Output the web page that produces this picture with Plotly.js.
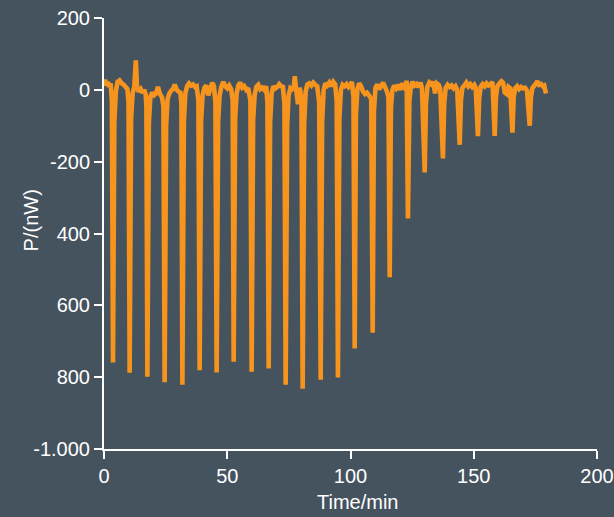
<!DOCTYPE html>
<html>
<head>
<meta charset="utf-8">
<script src="https://cdn.plot.ly/plotly-3.0.1.min.js"></script>
<style>
  html, body { margin: 0; padding: 0; background: #45535f; }
  #chart { width: 614px; height: 517px; }
</style>
</head>
<body>
<div id="chart"></div>
<script>
// Heat-flow trace: time in minutes, power in nW
const timeMin = [
  0.0, 0.4, 0.9, 1.5, 2.1, 2.7, 3.2, 3.65,
  4.2, 4.8, 5.5, 6.3, 7.2, 8.0, 8.8, 9.5, 9.95, 10.4,
  11.0, 11.6, 12.3, 12.9, 13.4, 14.1, 14.9, 15.6, 16.3, 16.9, 17.2, 17.6,
  18.2, 18.8, 19.5, 20.3, 21.1, 21.9, 22.7, 23.5, 24.1, 24.6,
  25.2, 25.8, 26.5, 27.3, 28.0, 28.7, 29.5, 30.3, 31.0, 31.4, 31.8,
  32.4, 33.0, 33.7, 34.5, 35.3, 36.1, 36.9, 37.6, 38.3, 38.8,
  39.4, 40.0, 40.7, 41.5, 42.3, 43.1, 43.9, 44.6, 45.2, 45.7,
  46.3, 46.9, 47.6, 48.4, 49.2, 50.0, 50.8, 51.6, 52.2, 52.6,
  53.2, 53.8, 54.5, 55.3, 56.1, 56.9, 57.7, 58.5, 59.4, 59.9,
  60.5, 61.1, 61.8, 62.6, 63.4, 64.2, 65.0, 65.8, 66.3, 66.8,
  67.4, 68.0, 68.7, 69.5, 70.3, 71.1, 71.9, 72.6, 73.2, 73.7,
  74.3, 74.9, 75.6, 76.3, 77.0, 77.4, 77.9, 78.7, 79.4, 80.1, 80.6,
  81.2, 81.8, 82.5, 83.3, 84.1, 84.9, 85.7, 86.5, 87.3, 87.9,
  88.5, 89.1, 89.8, 90.6, 91.4, 92.2, 93.0, 93.8, 94.4, 94.9,
  95.5, 96.1, 96.8, 97.6, 98.4, 99.2, 100.0, 100.6, 101.2, 101.7,
  102.2, 102.8, 103.5, 104.3, 105.1, 105.9, 106.7, 107.5, 108.4, 109.0,
  109.5, 110.1, 110.8, 111.6, 112.4, 113.2, 114.0, 114.8, 115.4, 115.9,
  116.4, 117.0, 117.7, 118.5, 119.3, 120.1, 120.9, 121.7, 122.4, 122.8, 123.3,
  123.9, 124.5, 125.2, 126.0, 126.8, 127.6, 128.4, 129.0, 130.1,
  130.6, 131.2, 132.0, 132.8, 133.6, 134.3, 135.0, 135.8, 136.4, 137.5,
  138.0, 138.6, 139.4, 140.2, 141.0, 141.8, 142.6, 143.3, 144.3,
  144.8, 145.4, 146.2, 147.0, 147.8, 148.6, 149.4, 150.2, 150.8, 151.7,
  152.2, 152.8, 153.6, 154.4, 155.2, 156.0, 156.8, 157.6, 158.5,
  159.0, 159.6, 160.4, 161.2, 161.9, 162.6, 163.4, 164.1, 164.8, 165.7,
  166.2, 166.8, 167.6, 168.4, 169.2, 170.0, 170.8, 171.6, 172.7,
  173.2, 173.8, 174.6, 175.3, 175.8, 176.5, 177.3, 178.0, 178.6, 179.3
];

const powerNW = [
  12, 28, 12, 22, 8, 18, -30, -759,
  -90, -5, 22, 26, 18, 14, 8, 2, -35, -788,
  -80, -10, 8, 82, 8, -5, 2, -8, 0, -12, -45, -799,
  -95, -20, -8, -15, -10, 8, -12, -20, -45, -814,
  -100, -25, -10, -2, 2, 15, 0, -5, -8, -40, -821,
  -90, -10, 10, 18, 12, 15, 8, 10, -30, -781,
  -85, -15, 5, 12, -15, 2, 20, 10, -35, -787,
  -90, -15, 8, 22, 10, 4, 12, 2, -30, -757,
  -80, -10, 12, 20, 6, 10, 0, 5, -30, -785,
  -85, -15, 8, 14, 2, 6, 0, 10, -35, -776,
  -90, -10, 10, 4, 8, 16, 10, 8, -40, -821,
  -100, -15, 5, 2, 8, 38, 4, -40, 6, -25, -832,
  -95, -5, 15, 18, 12, 20, 14, 10, -35, -807,
  -90, 0, 18, 12, 20, 10, 22, 15, -30, -801,
  -80, 0, 14, 10, 16, 8, 15, 22, -20, -720,
  -70, 2, 18, 10, -5, -12, -8, -15, -25, -676,
  -60, 5, 15, 2, 10, 20, 8, -5, -20, -522,
  -50, 0, 12, 4, 14, 0, 18, 8, 15, 25, -358,
  -30, 10, 22, 12, 16, 8, 20, 5, -230,
  -40, 8, 20, 15, 22, -10, 18, 14, 2, -191,
  -40, 5, 14, 8, 12, 4, 10, 0, -153,
  -30, 6, 12, 20, 10, 16, 8, 14, 5, -129,
  -25, 8, 16, 10, 18, 12, 15, 22, -128,
  -20, 10, 18, 24, 20, -8, -12, 8, 4, -119,
  -20, 4, 10, 2, 8, 4, 6, -2, -100,
  -20, 5, 12, 18, 24, 14, 16, 10, 12, -10
];

const xTickVals = [0, 50, 100, 150, 200];
const xTickText = ["0", "50", "100", "150", "200"];
const yTickVals = [200, 0, -200, -400, -600, -800, -1000];
const yTickText = ["200", "0", "-200", "400", "600", "800", "-1.000"];

const xTitle = "Time/min";
const yTitle = "P/(nW)";

const BG = "#45535f";
const FG = "#ffffff";
const TRACE = "#f7941d";
const FONT = "'Liberation Sans', Arial, sans-serif";

const trace = {
  type: "scatter",
  mode: "lines",
  x: timeMin,
  y: powerNW,
  line: { color: TRACE, width: 4.6, simplify: false },
  hoverinfo: "skip",
  showlegend: false
};

const axisCommon = {
  showline: true,
  linecolor: FG,
  linewidth: 2,
  ticks: "outside",
  ticklen: 8,
  tickwidth: 2,
  tickcolor: FG,
  showgrid: false,
  zeroline: false,
  fixedrange: true,
  ticklabeloverflow: "allow"
};

const layout = {
  width: 614,
  height: 517,
  paper_bgcolor: BG,
  plot_bgcolor: BG,
  margin: { l: 104, r: 17, t: 18, b: 68 },
  font: { family: FONT, size: 20, color: FG },
  xaxis: Object.assign({}, axisCommon, {
    range: [0, 200],
    tickmode: "array",
    tickvals: xTickVals,
    ticktext: xTickText,
    tickfont: { family: FONT, size: 20, color: FG }
  }),
  yaxis: Object.assign({}, axisCommon, {
    range: [-1000, 200],
    tickmode: "array",
    tickvals: yTickVals,
    ticktext: yTickText,
    tickfont: { family: FONT, size: 20, color: FG }
  }),
  annotations: [
    {
      text: xTitle,
      xref: "paper", yref: "paper",
      x: 0.5146, y: -0.122,
      xanchor: "center", yanchor: "middle",
      showarrow: false,
      font: { family: FONT, size: 20, color: FG }
    },
    {
      text: yTitle,
      xref: "paper", yref: "paper",
      x: -0.1487, y: 0.5297,
      xanchor: "center", yanchor: "middle",
      textangle: -90,
      showarrow: false,
      font: { family: FONT, size: 20, color: FG }
    }
  ]
};

Plotly.newPlot("chart", [trace], layout, { staticPlot: true, displayModeBar: false });
</script>
</body>
</html>
